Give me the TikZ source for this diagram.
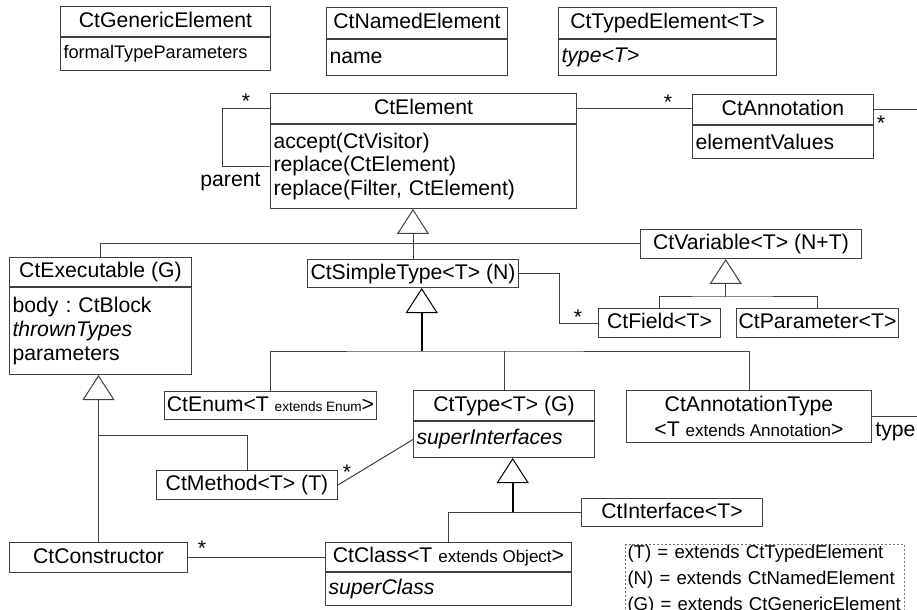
\documentclass[tikz,border=0pt]{standalone}
\usepackage{fontspec}
\setmainfont{Liberation Sans}
\usepackage{tikz}
\usetikzlibrary{arrows.meta}
\definecolor{umlline}{RGB}{64, 64, 64}
\newcommand{\umlfont}{\fontsize{10.6}{11.8}\selectfont}
\newcommand{\umlsmall}[2]{{\fontsize{#1}{9}\selectfont #2}}
\frenchspacing

\begin{document}
\begin{tikzpicture}[x=0.5pt, y=-0.5pt,
    line/.style={draw=umlline, line width=0.5pt},
    inherit/.style={line, -{Triangle[open, length=12.5pt, width=16pt, line width=0.5pt]}},
    inheritthick/.style={inherit, draw=black, line width=1.1pt},
    cls/.style={draw=umlline, line width=0.5pt, font=\umlfont, anchor=north west,
      inner sep=1pt, text height=7.9pt, text depth=2.3pt},
    clstwo/.style={draw=umlline, line width=0.5pt, font=\fontsize{10.6}{12.4}\selectfont,
      anchor=north west, inner sep=1pt, align=center},
    attr/.style={draw=umlline, line width=0.5pt, font=\umlfont, anchor=north west,
      inner xsep=1.5pt, inner ysep=1pt, align=left},
    mult/.style={font=\umlfont, inner sep=0pt, anchor=base},
    lbl/.style={font=\umlfont, inner sep=0pt, anchor=base west},
    legend/.style={draw=black!55, dash pattern=on 1pt off 1pt, line width=0.5pt,
      anchor=north west, inner xsep=1pt, inner ysep=0.5pt, align=left,
      font=\fontsize{9.3}{13}\selectfont}]
  \useasboundingbox (0,0) rectangle (917,610);

  % mix-in interfaces
  \node[cls, minimum width=105pt, minimum height=15pt] (generic) at (60,6) {CtGenericElement};
  \node[attr, text width=102pt, minimum height=16.5pt] (genericB) at (generic.south west)
    {\fontsize{9.1}{11}\selectfont formalTypeParameters};
  \node[cls, minimum width=90.5pt, minimum height=15.5pt] (named) at (326,7) {CtNamedElement};
  \node[attr, text width=87.5pt, minimum height=18pt] (namedB) at (named.south west) {name};
  \node[cls, minimum width=109pt, minimum height=15.5pt] (typed) at (558,7) {CtTypedElement<T>};
  \node[attr, text width=106pt, minimum height=18pt] (typedB) at (typed.south west) {\textit{type<T>}};

  % root and annotations
  \node[cls, minimum width=153pt, minimum height=15pt] (elem) at (270,93) {CtElement};
  \node[attr, text width=150pt, minimum height=42pt] (elemB) at (elem.south west)
    {accept(CtVisitor)\\replace(CtElement)\\replace(Filter, CtElement)};
  \node[cls, minimum width=90.5pt, minimum height=15pt] (annot) at (692,94) {CtAnnotation};
  \node[attr, text width=87.5pt, minimum height=16.5pt] (annotB) at (annot.south west) {elementValues};

  % second level
  \node[cls, minimum width=91pt, minimum height=14.5pt] (exe) at (9,257) {CtExecutable (G)};
  \node[attr, text width=88pt, minimum height=43.5pt] (exeB) at (exe.south west)
    {body : CtBlock\\\textit{thrownTypes}\\parameters};
  \node[cls, minimum width=105.5pt, minimum height=14pt] (simple) at (307,259) {CtSimpleType<T> (N)};
  \node[cls, minimum width=110.5pt, minimum height=14.5pt] (var) at (640,229) {CtVariable<T> (N+T)};
  \node[cls, minimum width=61pt, minimum height=14.5pt] (field) at (598,308) {CtField<T>};
  \node[cls, minimum width=81pt, minimum height=14.5pt] (param) at (736,308) {CtParameter<T>};

  % types
  \node[cls, minimum width=106pt, minimum height=14pt] (enum) at (164,391)
    {CtEnum<T \umlsmall{6.8}{extends Enum}>};
  \node[cls, minimum width=90.5pt, minimum height=15pt] (type) at (413,390) {CtType<T> (G)};
  \node[attr, text width=87.5pt, minimum height=18pt] (typeB) at (type.south west) {\textit{superInterfaces}};
  \node[clstwo, minimum width=122.5pt, minimum height=26pt] (annt) at (626,390)
    {CtAnnotationType\\<T \umlsmall{8.5}{extends Annotation}>};
  \node[cls, minimum width=90.5pt, minimum height=14.5pt] (meth) at (156,470) {CtMethod<T> (T)};
  \node[cls, minimum width=90.5pt, minimum height=14pt] (iface) at (581,498) {CtInterface<T>};
  \node[cls, minimum width=89pt, minimum height=15pt] (ctor) at (9,542) {CtConstructor};
  \node[cls, minimum width=123pt, minimum height=14.5pt] (class) at (325,542)
    {CtClass<T \umlsmall{8.5}{extends Object}>};
  \node[attr, text width=120pt, minimum height=16.5pt] (classB) at (class.south west) {\textit{superClass}};

  % legend
  \node[legend, text width=137.5pt] (key) at (625,544)
    {(T) = extends CtTypedElement\\(N) = extends CtNamedElement\\(G) = extends CtGenericElement};

  % generalisations
  \draw[inherit] (simple.north) -- (simple.north |- elemB.south);
  \draw[line] (exe.north) |- (var.west);
  \coordinate (varBus) at (725.7,297);
  \draw[inherit] (varBus) -- (varBus |- var.south);
  \draw[line] (field.north) |- (varBus) -| (param.north);
  \coordinate (simpleBus) at (421.7,351);
  \draw[inheritthick] (simpleBus) -- (simpleBus |- simple.south);
  \draw[line] (enum.north) |- (simpleBus) -| (annt.north);
  \draw[line] (type.north) -- (type.north |- simpleBus);
  \coordinate (typeBus) at (512.7,512);
  \draw[inheritthick] (typeBus) -- (typeBus |- typeB.south);
  \draw[line] (class.north) |- (iface.west);
  \draw[inherit] (ctor.north) -- (ctor.north |- exeB.south);
  \coordinate (exeBus) at (98,435);
  \draw[line] (meth.north) |- (exeBus);

  % associations
  \draw[line] (elem.west) -- ++(-48,0) |- (elemB.west);
  \node[mult] (mParent) at (246,109) {*};
  \node[lbl] (parentLbl) at (200,187) {parent};
  \draw[line] (elem.east) -- (elem.east -| annot.west);
  \node[mult] (mAnnot) at (668,110) {*};
  \coordinate (edgeA) at (917,109);
  \draw[line] (annot.east) -- (annot.east -| edgeA);
  \node[mult] (mValues) at (881,131) {*};
  \draw[line] (simple.east) -- ++(40,0) |- (field.west);
  \node[mult] (mField) at (578,324) {*};
  \draw[line] (meth.east) -- (typeB.west);
  \node[mult] (mMeth) at (347,479) {*};
  \draw[line] (ctor.east) -- (ctor.east -| class.west);
  \node[mult] (mCtor) at (202,555) {*};
  \coordinate (edgeB) at (917,416);
  \draw[line] (annt.east) -- (annt.east -| edgeB);
  \node[lbl] (typeLbl) at (875,436) {type};
\end{tikzpicture}
\end{document}
